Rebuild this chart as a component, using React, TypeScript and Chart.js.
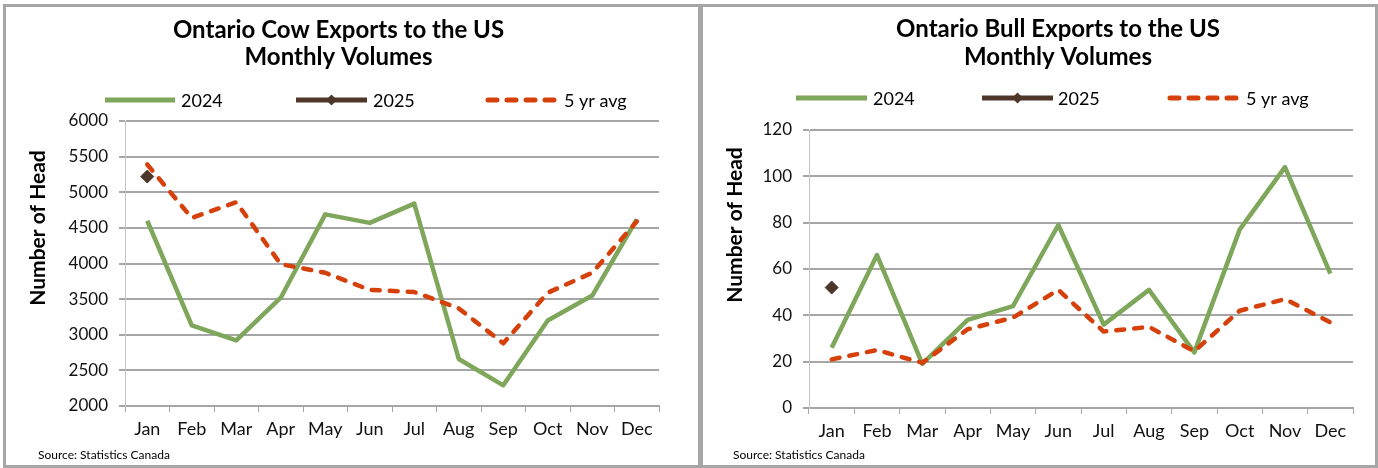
import React, { useEffect, useRef } from "react";
import { Chart, registerables } from "chart.js";

Chart.register(...registerables);

// ---------- data ----------
const MONTHS = ["Jan", "Feb", "Mar", "Apr", "May", "Jun", "Jul", "Aug", "Sep", "Oct", "Nov", "Dec"];
const SERIES_NAMES = ["2024", "2025", "5 yr avg"];

const COW_2024 = [4600, 3130, 2920, 3520, 4690, 4570, 4840, 2660, 2290, 3200, 3550, 4620];
const COW_2025 = [5220, null, null, null, null, null, null, null, null, null, null, null];
const COW_AVG = [5390, 4640, 4860, 3990, 3870, 3630, 3600, 3370, 2880, 3590, 3870, 4590];
const COW_Y_MIN = 2000;
const COW_Y_MAX = 6000;
const COW_Y_STEP = 500;

const BULL_2024 = [26, 66, 19, 38, 44, 79, 36, 51, 24, 77, 104, 58];
const BULL_2025 = [52, null, null, null, null, null, null, null, null, null, null, null];
const BULL_AVG = [21, 25, 19.5, 34, 39, 51, 33, 35, 24.5, 42, 47, 37];
const BULL_Y_MIN = 0;
const BULL_Y_MAX = 120;
const BULL_Y_STEP = 20;

const COW_TITLE = ["Ontario Cow Exports to the US", "Monthly Volumes"];
const BULL_TITLE = ["Ontario Bull Exports to the US", "Monthly Volumes"];
const AXIS_TITLE = "Number of Head";
const SOURCE = "Source: Statistics Canada";

// ---------- styles ----------
const COLORS = { y2024: "#7fa75b", y2025: "#4e3629", avg: "#d5400b" };
const FONT = "Lato";
const TEXT = "#111111";
const GRID = "#a6a6a6";

type LegendPos = { x0: number; x1: number; tx: number };
type Deco = {
  ox: number;
  oy: number;
  title: string[];
  titleX: number;
  titleYs: number[];
  legendY: number;
  legend: LegendPos[];
  axisX: number;
  axisY: number;
  sourceX: number;
  sourceY: number;
};
type Geom = { yWidth: number; padTop: number; padRight: number; xHeight: number };

function makeDeco(cfg: Deco) {
  return {
    id: "deco",
    afterDraw(chart: any) {
      const ctx: CanvasRenderingContext2D = chart.ctx;
      ctx.save();
      ctx.translate(-cfg.ox, -cfg.oy);
      // title
      ctx.fillStyle = "#000";
      ctx.textAlign = "center";
      ctx.textBaseline = "alphabetic";
      ctx.font = `bold 24px ${FONT}`;
      cfg.title.forEach((t, i) => ctx.fillText(t, cfg.titleX, cfg.titleYs[i]));
      // legend
      chart.data.datasets.forEach((ds: any, i: number) => {
        const p = cfg.legend[i];
        const y = cfg.legendY;
        ctx.save();
        ctx.strokeStyle = ds.borderColor;
        ctx.lineWidth = 5;
        const dashed = ds.borderDash && ds.borderDash.length;
        ctx.lineCap = dashed ? "round" : "butt";
        ctx.setLineDash(dashed ? [9, 10] : []);
        ctx.beginPath();
        ctx.moveTo(p.x0, y);
        ctx.lineTo(p.x1, y);
        ctx.stroke();
        ctx.restore();
        if (ds.pointStyle === "rectRot") {
          const cx = (p.x0 + p.x1) / 2;
          const r = 5.5;
          ctx.fillStyle = ds.borderColor;
          ctx.beginPath();
          ctx.moveTo(cx - r, y);
          ctx.lineTo(cx, y - r);
          ctx.lineTo(cx + r, y);
          ctx.lineTo(cx, y + r);
          ctx.closePath();
          ctx.fill();
        }
        ctx.fillStyle = "#000";
        ctx.font = `18px ${FONT}`;
        ctx.textAlign = "left";
        ctx.textBaseline = "middle";
        ctx.fillText(ds.label, p.tx, y + 1);
      });
      // axis title
      ctx.save();
      ctx.translate(cfg.axisX, cfg.axisY);
      ctx.rotate(-Math.PI / 2);
      ctx.fillStyle = "#000";
      ctx.textAlign = "center";
      ctx.textBaseline = "middle";
      ctx.font = `bold 21px ${FONT}`;
      ctx.fillText(AXIS_TITLE, 0, 0);
      ctx.restore();
      // source
      ctx.fillStyle = "#000";
      ctx.font = `12px ${FONT}`;
      ctx.textAlign = "left";
      ctx.textBaseline = "alphabetic";
      ctx.fillText(SOURCE, cfg.sourceX, cfg.sourceY);
      ctx.restore();
    },
  };
}

function buildConfig(
  d24: (number | null)[],
  d25: (number | null)[],
  davg: (number | null)[],
  yMin: number,
  yMax: number,
  yStep: number,
  geom: Geom,
  deco: Deco
): any {
  return {
    type: "line",
    data: {
      labels: MONTHS,
      datasets: [
        {
          label: SERIES_NAMES[0],
          data: d24,
          borderColor: COLORS.y2024,
          backgroundColor: COLORS.y2024,
          borderWidth: 4.5,
          borderJoinStyle: "round",
          pointRadius: 0,
          tension: 0,
          order: 2,
        },
        {
          label: SERIES_NAMES[1],
          data: d25,
          borderColor: COLORS.y2025,
          backgroundColor: COLORS.y2025,
          pointBackgroundColor: COLORS.y2025,
          pointBorderColor: COLORS.y2025,
          pointStyle: "rectRot",
          pointRadius: 6.5,
          pointBorderWidth: 1,
          showLine: false,
          order: 0,
        },
        {
          label: SERIES_NAMES[2],
          data: davg,
          borderColor: COLORS.avg,
          backgroundColor: COLORS.avg,
          borderWidth: 4.5,
          borderDash: [8, 10],
          borderCapStyle: "round",
          borderJoinStyle: "round",
          pointRadius: 0,
          tension: 0,
          order: 1,
        },
      ],
    },
    options: {
      responsive: false,
      animation: false,
      devicePixelRatio: 1,
      events: [],
      layout: { padding: { left: 0, right: geom.padRight, top: geom.padTop, bottom: 0 } },
      plugins: {
        legend: { display: false },
        title: { display: false },
        tooltip: { enabled: false },
      },
      scales: {
        x: {
          type: "category",
          offset: true,
          grid: {
            offset: true,
            drawOnChartArea: false,
            drawTicks: true,
            tickLength: 6,
            color: GRID,
            lineWidth: 1,
          },
          border: { color: GRID, width: 2 },
          ticks: {
            font: { family: FONT, size: 18 },
            color: TEXT,
            padding: 6,
            maxRotation: 0,
            autoSkip: false,
          },
          afterFit: (s: any) => {
            s.height = geom.xHeight;
          },
        },
        y: {
          type: "linear",
          min: yMin,
          max: yMax,
          ticks: {
            stepSize: yStep,
            font: { family: FONT, size: 17 },
            color: TEXT,
            padding: 11,
            callback: (v: any) => String(v),
          },
          grid: { color: GRID, lineWidth: 2, tickLength: 6, drawTicks: true },
          border: { color: "#c4c4c4", width: 1 },
          afterFit: (s: any) => {
            s.width = geom.yWidth;
          },
        },
      },
    },
    plugins: [makeDeco(deco)],
  };
}

function ChartPanel(props: { left: number; top: number; width: number; height: number; config: () => any }) {
  const ref = useRef<HTMLCanvasElement | null>(null);
  useEffect(() => {
    if (!ref.current) return;
    const chart = new Chart(ref.current, props.config());
    let alive = true;
    Promise.all([
      document.fonts.load(`bold 24px ${FONT}`),
      document.fonts.load(`18px ${FONT}`),
    ])
      .then(() => {
        if (alive) chart.update();
      })
      .catch(() => {});
    return () => {
      alive = false;
      chart.destroy();
    };
  }, []);
  const b = 3;
  return (
    <div
      style={{
        position: "absolute",
        left: props.left,
        top: props.top,
        width: props.width,
        height: props.height,
        border: `${b}px solid #a6a6a6`,
        boxSizing: "border-box",
        background: "#fff",
      }}
    >
      <canvas
        ref={ref}
        width={props.width - 2 * b}
        height={props.height - 2 * b}
        style={{ display: "block", width: props.width - 2 * b, height: props.height - 2 * b }}
      />
    </div>
  );
}

export default function App() {
  const cowCfg = () =>
    buildConfig(
      COW_2024,
      COW_2025,
      COW_AVG,
      COW_Y_MIN,
      COW_Y_MAX,
      COW_Y_STEP,
      { yWidth: 119, padTop: 114, padRight: 39, xHeight: 59 },
      {
        ox: 6,
        oy: 7,
        title: COW_TITLE,
        titleX: 338.5,
        titleYs: [38, 65],
        legendY: 100,
        legend: [
          { x0: 105, x1: 175, tx: 181 },
          { x0: 296, x1: 367, tx: 373 },
          { x0: 488, x1: 558, tx: 564 },
        ],
        axisX: 38,
        axisY: 228,
        sourceX: 38,
        sourceY: 459,
      }
    );
  const bullCfg = () =>
    buildConfig(
      BULL_2024,
      BULL_2025,
      BULL_AVG,
      BULL_Y_MIN,
      BULL_Y_MAX,
      BULL_Y_STEP,
      { yWidth: 106, padTop: 123, padRight: 22, xHeight: 57 },
      {
        ox: 703,
        oy: 7,
        title: BULL_TITLE,
        titleX: 1058,
        titleYs: [37, 65],
        legendY: 98,
        legend: [
          { x0: 796, x1: 867, tx: 873 },
          { x0: 982, x1: 1053, tx: 1058 },
          { x0: 1170, x1: 1239, tx: 1246 },
        ],
        axisX: 735,
        axisY: 225,
        sourceX: 733,
        sourceY: 459,
      }
    );
  return (
    <div
      style={{
        position: "fixed",
        left: 0,
        top: 0,
        width: 1378,
        height: 468,
        background: "#fff",
        overflow: "hidden",
      }}
    >
      <ChartPanel left={3} top={4} width={698} height={464} config={cowCfg} />
      <ChartPanel left={700} top={4} width={678} height={464} config={bullCfg} />
    </div>
  );
}
